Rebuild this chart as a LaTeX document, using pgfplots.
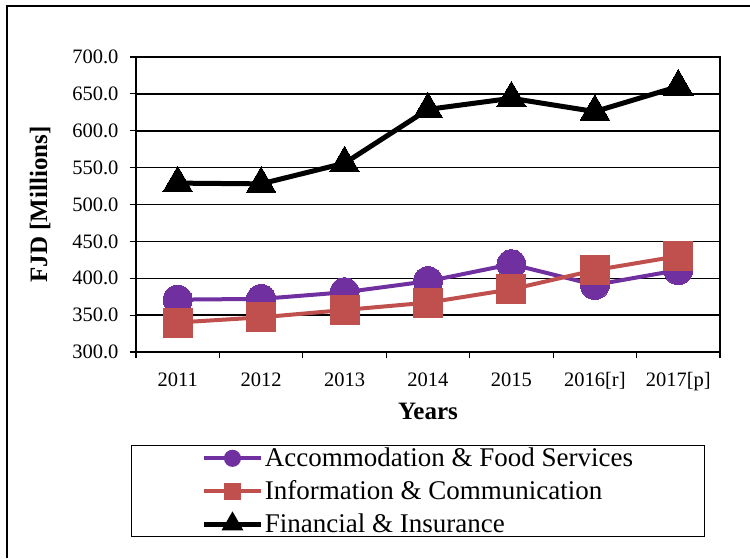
\documentclass[border=0pt]{standalone}
\usepackage{fontspec}
\setmainfont{Liberation Serif}
\usepackage{pgfplots}
\pgfplotsset{compat=1.18}
\definecolor{cpurple}{HTML}{7030A0}
\definecolor{cred}{HTML}{C0504D}
\begin{document}
\begin{tikzpicture}[x=1pt,y=1pt]
\useasboundingbox (0pt,0pt) rectangle (750pt,558pt);
\draw[line width=2pt] (7pt,0pt) -- (7pt,552pt) -- (750pt,552pt);
\begin{axis}[at={(136pt,206pt)}, anchor=south west, width=584pt, height=295pt, scale only axis,
  xmin=-0.5, xmax=6.5, ymin=300, ymax=700,
  xtick={0,...,6}, xticklabels={2011,2012,2013,2014,2015,2016[r],2017[p]},
  major x tick style={draw=none},
  minor xtick={-0.5,0.5,...,6.5},
  ytick={300,350,...,700},
  tick pos=left,
  ymajorgrids, grid style={black, line width=1.5pt},
  tick align=outside, tick style={black, line width=1.2pt},
  major tick length=6pt, minor tick length=6pt,
  axis line style={black, line width=1.5pt},
  /pgf/number format/assume math mode=true,
  yticklabel style={/pgf/number format/fixed, /pgf/number format/precision=1, /pgf/number format/fixed zerofill, xshift=-8pt},
  scaled y ticks=false,
  ticklabel style={font=\fontsize{20.5}{24}\selectfont},
  xticklabel style={yshift=-11pt},
  xlabel={Years}, ylabel={FJD [Millions]},
  label style={font=\fontsize{25}{30}\selectfont\bfseries},
  xlabel style={at={(axis description cs:0.5,-0.203)}, anchor=center},
  ylabel style={at={(axis description cs:-0.164,0.5)}, anchor=center},
  legend style={at={(axis description cs:0.483,-0.315)}, anchor=north, draw=black, line width=1.5pt,
    font=\fontsize{27}{30}\selectfont, inner xsep=70pt, inner ysep=1pt, row sep=9.5pt,
    nodes={inner sep=1.5pt}},
  legend cell align=left,
  legend image code/.code={
    \draw[#1, mark options={scale=0.45}, mark repeat=2, mark phase=2] plot coordinates {(0pt,0pt) (28.5pt,0pt) (57pt,0pt)};
  },
]
\addplot[cpurple, line width=4pt, mark=*, mark size=14.5pt, mark options={solid, draw=cpurple, fill=cpurple, line width=0pt}]
  coordinates {(0,371) (1,372) (2,381) (3,396) (4,419) (5,391) (6,411)};
\addlegendentry{Accommodation \& Food Services}
\addplot[cred, line width=4pt, mark=square*, mark size=14.5pt, mark options={solid, draw=cred, fill=cred, line width=0pt}]
  coordinates {(0,340) (1,347) (2,357) (3,367) (4,385) (5,411) (6,430)};
\addlegendentry{Information \& Communication}
\addplot[black, line width=5pt, mark=triangle*, mark size=17pt, mark options={solid, draw=black, fill=black, line width=0pt}]
  coordinates {(0,529) (1,528) (2,556) (3,629) (4,644) (5,626) (6,660)};
\addlegendentry{Financial \& Insurance}
\end{axis}
\end{tikzpicture}
\end{document}
